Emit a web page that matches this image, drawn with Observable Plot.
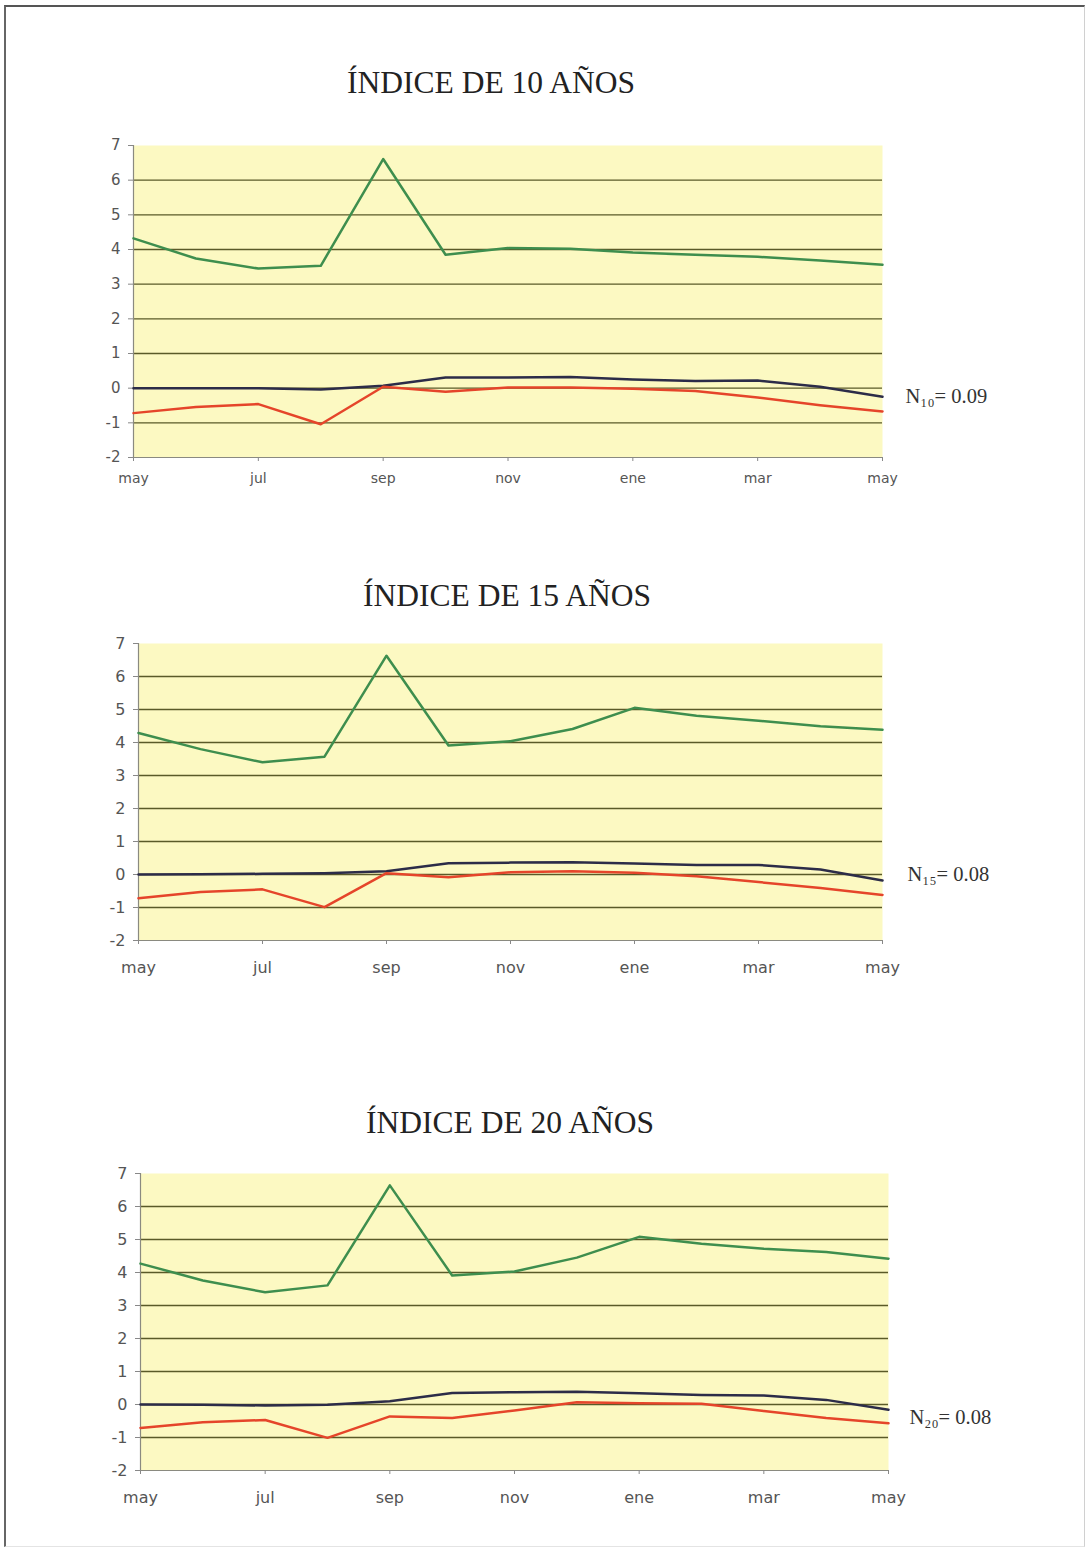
<!DOCTYPE html>
<html><head><meta charset="utf-8">
<script src="https://cdn.jsdelivr.net/npm/d3@7"></script>
<script src="https://cdn.jsdelivr.net/npm/@observablehq/plot@0.6"></script>
<style>
body{margin:0;background:#fff;}
#page{position:relative;width:1088px;height:1552px;overflow:hidden;background:#fff;}
.frame{position:absolute;left:4px;top:5px;width:1081px;height:1542px;border-top:2px solid #555;border-left:2px solid #666;border-right:1px solid #d0d0d0;border-bottom:1px solid #e4e4e4;box-sizing:border-box}
.title{position:absolute;font-family:"Liberation Serif","Times New Roman",serif;font-size:31.5px;color:#222;transform:translateX(-50%);white-space:nowrap;line-height:1}
.panel{position:absolute;left:0}
</style></head><body><div id="page"><div class="frame"></div></div>
<script>
// month categories (may .. may)
const months = ["may","jun","jul","ago","sep","oct","nov","dic","ene","feb","mar","abr","may"];
const tickIdx = [0,2,4,6,8,10,12];
const yTicks = [-2,-1,0,1,2,3,4,5,6,7];
const titles = ["ÍNDICE DE 10 AÑOS","ÍNDICE DE 15 AÑOS","ÍNDICE DE 20 AÑOS"];
const notes = ["N₁₀= 0.09","N₁₅= 0.08","N₂₀= 0.08"];

const green10 = [4.32,3.74,3.45,3.53,6.61,3.85,4.04,4.02,3.91,3.85,3.79,3.68,3.56];
const navy10  = [0.00,0.00,0.00,-0.04,0.07,0.31,0.31,0.32,0.25,0.21,0.22,0.04,-0.25];
const red10   = [-0.72,-0.54,-0.46,-1.04,0.04,-0.10,0.02,0.02,-0.02,-0.08,-0.27,-0.49,-0.67];

const green15 = [4.29,3.80,3.40,3.57,6.63,3.91,4.04,4.41,5.05,4.81,4.66,4.49,4.39];
const navy15  = [0.00,0.01,0.02,0.04,0.10,0.34,0.36,0.37,0.33,0.29,0.29,0.15,-0.18];
const red15   = [-0.72,-0.53,-0.45,-0.99,0.04,-0.08,0.07,0.10,0.05,-0.05,-0.23,-0.41,-0.62];

const green20 = [4.27,3.76,3.40,3.61,6.64,3.91,4.03,4.45,5.08,4.87,4.72,4.62,4.42];
const navy20  = [0.00,-0.01,-0.03,-0.01,0.10,0.35,0.37,0.39,0.34,0.29,0.27,0.14,-0.16];
const red20   = [-0.71,-0.54,-0.47,-1.01,-0.36,-0.41,-0.18,0.07,0.04,0.02,-0.20,-0.41,-0.57];

const colors = {g:"#3e8e4e", n:"#2c2c48", r:"#e5452a"};

const panels = [
  {g:green10,n:navy10,r:red10,top:130,h:370,ml:133,mr:206,mb:43,xfs:14,xpad:12,xstretch:"condensed",yfs:15,tx:491,ty:67,ndx:23,ndy:8},
  {g:green15,n:navy15,r:red15,top:628,h:360,ml:138,mr:206,mb:48,xfs:16,xpad:17,xstretch:"normal",yfs:16,tx:507,ty:580,ndx:25,ndy:0},
  {g:green20,n:navy20,r:red20,top:1158,h:360,ml:140,mr:200,mb:48,xfs:16,xpad:17,xstretch:"normal",yfs:16,tx:510,ty:1107,ndx:21,ndy:13}
];

const page = document.getElementById("page");
panels.forEach((p,k)=>{
  const t = document.createElement("div");
  t.className="title"; t.textContent=titles[k];
  t.style.left=p.tx+"px"; t.style.top=p.ty+"px";
  page.appendChild(t);
  const series = ["g","n","r"].map(s=>({s, data:p[s].map((v,i)=>({i,v}))}));
  const chart = Plot.plot({
    width:1088, height:p.h, marginLeft:p.ml, marginRight:p.mr, marginTop:15, marginBottom:p.mb,
    style:{background:"transparent", fontFamily:"'DejaVu Sans', Verdana, sans-serif", color:"#444", overflow:"visible"},
    x:{domain:[0,12]},
    y:{domain:[-2,7]},
    marks:[
      Plot.frame({fill:"#fcf9c2", stroke:null}),
      Plot.ruleY(yTicks.filter(d=>d>-2 && d<7), {stroke:"#5a5a28", strokeWidth:1.3}),
      Plot.ruleY([-2], {stroke:"#8a8a80", strokeWidth:1.2}),
      Plot.ruleX([0], {stroke:"#8a8a80", strokeWidth:1.2}),
      Plot.axisY({ticks:yTicks, tickFormat:d=>String(d), tickSize:5, tickPadding:8, fontSize:p.yfs, fill:"#555", stroke:"#888", label:null}),
      Plot.axisX({ticks:tickIdx, tickFormat:i=>months[i], tickSize:4, tickPadding:p.xpad, fontSize:p.xfs, fontStretch:p.xstretch, fill:"#555", stroke:"#888", label:null}),
      ...series.map(ser=>Plot.line(ser.data,{x:"i", y:"v", stroke:colors[ser.s], strokeWidth:2.5})),
      Plot.text([notes[k]], {x:()=>12, y:()=>0, text:d=>d, dx:p.ndx, dy:p.ndy, textAnchor:"start", fontFamily:"'Liberation Serif','Times New Roman',serif", fontSize:20.5, fill:"#333"})
    ]
  });
  chart.classList.add("panel");
  chart.style.top=p.top+"px";
  page.appendChild(chart);
});
</script></body></html>
